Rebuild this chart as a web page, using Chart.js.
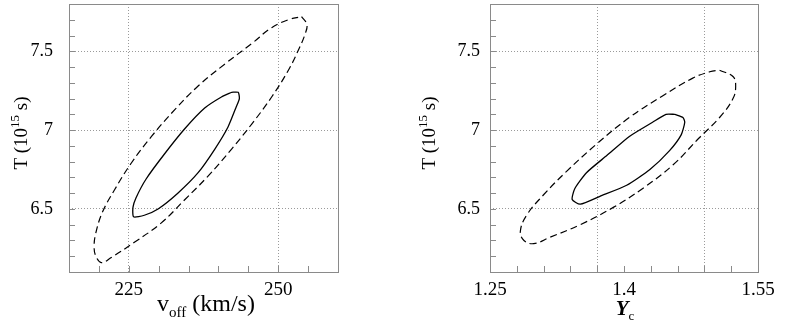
<!DOCTYPE html>
<html>
<head>
<meta charset="utf-8">
<script src="https://cdn.jsdelivr.net/npm/chart.js@4.4.1/dist/chart.umd.min.js"></script>
<style>
  html, body { margin: 0; padding: 0; background: #fff; }
  #wrap { position: relative; width: 785px; height: 322px; }
  .panel { position: absolute; top: 0; }
  #leftPanel { left: 0; }
  #rightPanel { left: 392px; }
</style>
</head>
<body>
<div id="wrap">
  <div class="panel" id="leftPanel"><canvas id="leftChart" width="392" height="322"></canvas></div>
  <div class="panel" id="rightPanel"><canvas id="rightChart" width="393" height="322"></canvas></div>
</div>
<script>
// contour of T vs v_off (outer = dashed, inner = solid)
const leftOuterV = [253.9, 254.8, 254.5, 253.4, 251.7, 248.9, 245.6, 242.2, 238.3, 234.4, 230.4, 226.0, 222.0, 220.4, 219.5, 219.2, 219.5, 220.6, 222.6, 225.4, 228.8, 232.7, 236.6, 241.1, 245.6, 248.9, 251.7];
const leftOuterT = [7.72, 7.67, 7.61, 7.51, 7.38, 7.21, 7.04, 6.88, 6.71, 6.56, 6.41, 6.29, 6.19, 6.16, 6.20, 6.26, 6.35, 6.48, 6.62, 6.79, 6.96, 7.13, 7.28, 7.42, 7.55, 7.65, 7.70];
const leftInnerV = [242.2, 243.3, 243.5, 243.0, 241.6, 239.4, 236.6, 233.2, 229.9, 227.6, 225.8, 225.7, 226.2, 227.9, 231.0, 234.4, 237.7, 240.5];
const leftInnerT = [7.24, 7.24, 7.20, 7.15, 7.02, 6.88, 6.73, 6.60, 6.50, 6.46, 6.45, 6.51, 6.57, 6.69, 6.85, 7.01, 7.14, 7.21];

// contour of T vs Upsilon_c
const rightOuterY = [1.507, 1.522, 1.525, 1.522, 1.507, 1.484, 1.455, 1.421, 1.388, 1.351, 1.317, 1.299, 1.288, 1.284, 1.291, 1.310, 1.336, 1.369, 1.406, 1.444, 1.477, 1.496];
const rightOuterT = [7.38, 7.34, 7.28, 7.20, 7.08, 6.95, 6.78, 6.63, 6.51, 6.40, 6.32, 6.28, 6.30, 6.36, 6.46, 6.59, 6.74, 6.91, 7.08, 7.22, 7.33, 7.37];
const rightInnerY = [1.457, 1.466, 1.468, 1.464, 1.451, 1.429, 1.403, 1.373, 1.351, 1.342, 1.345, 1.358, 1.381, 1.406, 1.432, 1.447];
const rightInnerT = [7.10, 7.08, 7.05, 6.97, 6.87, 6.75, 6.65, 6.58, 6.53, 6.56, 6.63, 6.73, 6.84, 6.96, 7.05, 7.10];

// axis ticks
const leftXTicks = [215, 220, 225, 230, 235, 240, 245, 250, 255, 260];
const leftXLabels = [225, 250];
const rightXTicks = [1.25, 1.28, 1.31, 1.34, 1.37, 1.4, 1.43, 1.46, 1.49, 1.52, 1.55];
const rightXLabels = [1.25, 1.4, 1.55];
const rightXGrid = [1.37, 1.49];
const yTicks = [6.1, 6.2, 6.3, 6.4, 6.5, 6.6, 6.7, 6.8, 6.9, 7, 7.1, 7.2, 7.3, 7.4, 7.5, 7.6, 7.7, 7.8];
const yLabels = [6.5, 7, 7.5];

const FRAME = "#8a8a8a";
const GRID = "#9a9a9a";
const SERIF = "'Liberation Serif', 'DejaVu Serif', serif";

function closedLoop(xs, ys) {
  const pts = xs.map((x, i) => ({ x, y: ys[i] }));
  pts.push({ ...pts[0] });
  return pts;
}

function drawParts(ctx, parts, cx, baseline) {
  let total = 0;
  parts.forEach((p) => {
    ctx.font = p.font;
    p.w = ctx.measureText(p.text).width;
    total += p.w;
  });
  let x = cx - total / 2;
  ctx.textAlign = "left";
  ctx.textBaseline = "alphabetic";
  parts.forEach((p) => {
    ctx.font = p.font;
    ctx.fillText(p.text, x, baseline + (p.dy || 0));
    x += p.w;
  });
}

// frame and inward tick marks, like the original plot
const frameTicks = {
  id: "frameTicks",
  afterDraw(chart) {
    const { ctx, chartArea: a, scales } = chart;
    ctx.save();
    ctx.strokeStyle = FRAME;
    ctx.lineWidth = 1;
    ctx.beginPath();
    scales.x.ticks.forEach((t) => {
      const px = Math.round(scales.x.getPixelForValue(t.value)) + 0.5;
      ctx.moveTo(px, a.bottom);
      ctx.lineTo(px, a.bottom - 6);
    });
    scales.y.ticks.forEach((t) => {
      const py = Math.round(scales.y.getPixelForValue(t.value)) + 0.5;
      ctx.moveTo(a.left, py);
      ctx.lineTo(a.left + 6, py);
    });
    ctx.stroke();
    ctx.strokeRect(a.left + 0.5, a.top + 0.5, a.right - a.left, a.bottom - a.top);
    ctx.restore();
  },
};

function titlesPlugin(xParts, xCenter, xBase, yParts, yCenter, yBase) {
  return {
    id: "titles",
    afterDraw(chart) {
      const ctx = chart.ctx;
      ctx.save();
      ctx.fillStyle = "#000";
      drawParts(ctx, xParts, xCenter, xBase);
      ctx.translate(yBase, yCenter);
      ctx.rotate(-Math.PI / 2);
      drawParts(ctx, yParts, 0, 0);
      ctx.restore();
    },
  };
}

function buildChart(canvasId, cfg) {
  return new Chart(document.getElementById(canvasId), {
    type: "scatter",
    data: {
      datasets: [
        {
          data: closedLoop(cfg.outerX, cfg.outerY),
          showLine: true,
          borderColor: "#000",
          borderWidth: 1.2,
          borderDash: [7, 4],
          pointRadius: 0,
          tension: 0.4,
        },
        {
          data: closedLoop(cfg.innerX, cfg.innerY),
          showLine: true,
          borderColor: "#000",
          borderWidth: 1.3,
          pointRadius: 0,
          tension: 0.2,
        },
      ],
    },
    options: {
      responsive: false,
      animation: false,
      events: [],
      layout: { autoPadding: false, padding: { left: 0, top: 4, right: cfg.padRight, bottom: 0 } },
      plugins: { legend: { display: false }, tooltip: { enabled: false } },
      scales: {
        x: {
          type: "linear",
          min: cfg.xTicks[0],
          max: cfg.xTicks[cfg.xTicks.length - 1],
          afterBuildTicks: (axis) => {
            axis.ticks = cfg.xTicks.map((v) => ({ value: v }));
          },
          afterFit: (axis) => {
            axis.height = 50;
            axis.paddingLeft = 0;
            axis.paddingRight = 0;
          },
          border: { display: false, dash: [1, 2] },
          grid: {
            drawTicks: false,
            lineWidth: 1,
            color: (c) => (c.tick && cfg.xGrid.includes(c.tick.value) ? GRID : "rgba(0,0,0,0)"),
          },
          ticks: {
            autoSkip: false,
            maxRotation: 0,
            padding: 7,
            color: "#000",
            font: { family: SERIF, size: 19 },
            callback: (v) => (cfg.xLabels.includes(v) ? String(v) : ""),
          },
        },
        y: {
          type: "linear",
          min: 6.1,
          max: 7.8,
          afterBuildTicks: (axis) => {
            axis.ticks = yTicks.map((v) => ({ value: v }));
          },
          afterFit: (axis) => {
            axis.width = cfg.yWidth;
            axis.paddingTop = 0;
            axis.paddingBottom = 0;
          },
          border: { display: false, dash: [1, 2] },
          grid: {
            drawTicks: false,
            lineWidth: 1,
            color: (c) => (c.tick && yLabels.includes(c.tick.value) ? GRID : "rgba(0,0,0,0)"),
          },
          ticks: {
            autoSkip: false,
            padding: cfg.yPad,
            color: "#000",
            font: { family: SERIF, size: 18 },
            callback: (v) => (yLabels.includes(v) ? String(v) : ""),
          },
        },
      },
    },
    plugins: [frameTicks, cfg.titles],
  });
}

const yTitle = [
  { text: "T (10", font: "19px " + SERIF },
  { text: "15", font: "13px " + SERIF, dy: -8 },
  { text: " s)", font: "19px " + SERIF },
];

buildChart("leftChart", {
  outerX: leftOuterV, outerY: leftOuterT,
  innerX: leftInnerV, innerY: leftInnerT,
  xTicks: leftXTicks, xLabels: leftXLabels, xGrid: leftXLabels,
  padRight: 54, yWidth: 69, yPad: 16,
  titles: titlesPlugin(
    [
      { text: "v", font: "24px " + SERIF },
      { text: "off", font: "15px " + SERIF, dy: 6 },
      { text: " (km/s)", font: "24px " + SERIF },
    ],
    206, 311, yTitle, 133, 27
  ),
});

buildChart("rightChart", {
  outerX: rightOuterY, outerY: rightOuterT,
  innerX: rightInnerY, innerY: rightInnerT,
  xTicks: rightXTicks, xLabels: rightXLabels, xGrid: rightXGrid,
  padRight: 27, yWidth: 98, yPad: 10,
  titles: titlesPlugin(
    [
      { text: "\u03A5", font: "italic bold 21px " + SERIF },
      { text: "c", font: "13px " + SERIF, dy: 5 },
    ],
    233, 315, yTitle, 133, 43
  ),
});
</script>
</body>
</html>
